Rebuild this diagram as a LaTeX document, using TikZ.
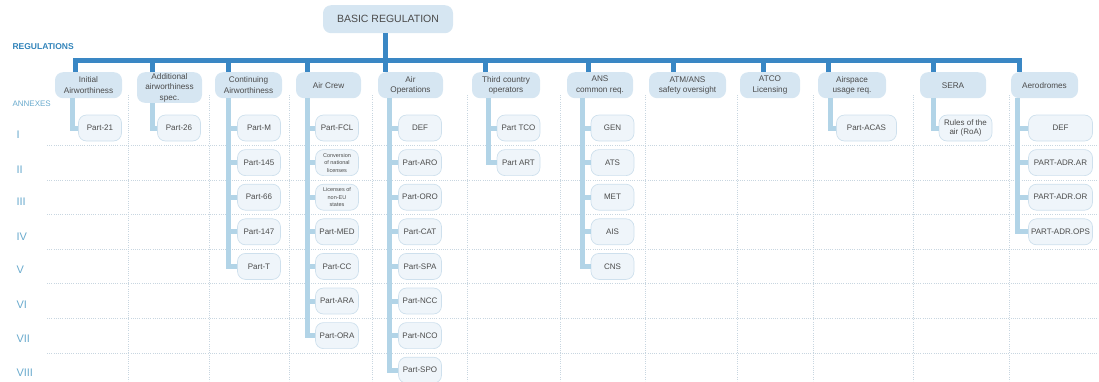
\documentclass[tikz,border=0pt]{standalone}
\usepackage{fontspec}
\setmainfont{Liberation Sans}
\definecolor{barblue}{RGB}{58,135,196}
\definecolor{branchblue}{RGB}{178,212,231}
\definecolor{lvlfill}{RGB}{214,230,242}
\definecolor{partfill}{RGB}{239,245,250}
\definecolor{partline}{RGB}{206,224,237}
\definecolor{boxtext}{RGB}{75,75,75}
\definecolor{labelblue}{RGB}{50,132,186}
\definecolor{numblue}{RGB}{105,170,205}
\definecolor{gridgray}{RGB}{200,214,224}

\begin{document}
\begin{tikzpicture}[x=1pt,y=-1pt,
  lvl/.style={rectangle, rounded corners=8pt, fill=lvlfill, text=boxtext, align=center,
    minimum height=26pt, inner sep=1pt, anchor=north, font=\fontsize{8.2}{10.5}\selectfont},
  part/.style={rectangle, rounded corners=8pt, fill=partfill, draw=partline, line width=0.7pt,
    text=boxtext, align=center, minimum height=26pt, minimum width=43pt, inner sep=1pt,
    font=\fontsize{8}{9.5}\selectfont},
  tiny/.style={font=\fontsize{5.5}{7.5}\selectfont},
  trunk/.style={draw=barblue, line width=5pt},
  branch/.style={draw=branchblue, line width=5pt},
  gridline/.style={draw=gridgray, line width=0.6pt, dash pattern=on 0.8pt off 1.4pt},
  roman/.style={anchor=west, text=numblue, font=\fontsize{11}{11}\selectfont}]
\clip (0,0) rectangle (1099,381);

% grid
\draw[gridline] (128,95) -- (128,381);
\draw[gridline] (209,95) -- (209,381);
\draw[gridline] (289,95) -- (289,381);
\draw[gridline] (372,95) -- (372,381);
\draw[gridline] (467,95) -- (467,381);
\draw[gridline] (560,95) -- (560,381);
\draw[gridline] (645,95) -- (645,381);
\draw[gridline] (737,95) -- (737,381);
\draw[gridline] (813,95) -- (813,381);
\draw[gridline] (913,95) -- (913,381);
\draw[gridline] (1009,95) -- (1009,381);
\draw[gridline] (47,145.3) -- (1099,145.3);
\draw[gridline] (47,180) -- (1099,180);
\draw[gridline] (47,214.5) -- (1099,214.5);
\draw[gridline] (47,249) -- (1099,249);
\draw[gridline] (47,283.7) -- (1099,283.7);
\draw[gridline] (47,318) -- (1099,318);
\draw[gridline] (47,353) -- (1099,353);

% labels
\node[anchor=west, text=labelblue, font=\bfseries\fontsize{8.5}{10}\selectfont] (regs) at (9,47) {REGULATIONS};
\node[anchor=west, text=numblue, font=\fontsize{8}{10}\selectfont] (annex) at (9,104) {ANNEXES};
\node[roman] (r1) at (13,135) {I};
\node[roman] (r2) at (13,170) {II};
\node[roman] (r3) at (13,202) {III};
\node[roman] (r4) at (13,237) {IV};
\node[roman] (r5) at (13,270) {V};
\node[roman] (r6) at (13,305) {VI};
\node[roman] (r7) at (13,339) {VII};
\node[roman] (r8) at (13,373) {VIII};

% regulations
\node[lvl, minimum width=130pt, minimum height=28pt, font=\fontsize{10.5}{12}\selectfont] (basic) at (388,5) {BASIC REGULATION};
\node[lvl, minimum width=67pt] (ini) at (88.5,72) {Initial\\Airworthiness};
\node[lvl, minimum width=65pt] (add) at (169.5,72) {Additional\\airworthiness\\spec.};
\node[lvl, minimum width=67pt] (cam) at (248.5,72) {Continuing\\Airworthiness};
\node[lvl, minimum width=65pt] (crew) at (328.5,72) {Air Crew};
\node[lvl, minimum width=65pt] (ops) at (410.5,72) {Air\\Operations};
\node[lvl, minimum width=68pt] (tco) at (506,72) {Third country\\operators};
\node[lvl, minimum width=66pt] (ans) at (600,72) {ANS\\common req.};
\node[lvl, minimum width=77pt] (atm) at (687.5,72) {ATM/ANS\\safety oversight};
\node[lvl, minimum width=60pt] (atco) at (770,72) {ATCO\\Licensing};
\node[lvl, minimum width=68pt] (asp) at (852,72) {Airspace\\usage req.};
\node[lvl, minimum width=66pt] (sera) at (953,72) {SERA};
\node[lvl, minimum width=67pt] (adr) at (1044.5,72) {Aerodromes};

% annexes
\node[part] (p21) at (100,128) {Part-21};
\node[part] (p26) at (179,128) {Part-26};
\node[part] (pm) at (259,128) {Part-M};
\node[part] (p145) at (259,162.6) {Part-145};
\node[part] (p66) at (259,197.2) {Part-66};
\node[part] (p147) at (259,231.8) {Part-147};
\node[part] (pt) at (259,266.4) {Part-T};
\node[part] (fcl) at (337,128) {Part-FCL};
\node[part, tiny] (conv) at (337,162.6) {Conversion\\of national\\licenses};
\node[part, tiny] (noneu) at (337,197.2) {Licenses of\\non-EU\\states};
\node[part] (med) at (337,231.8) {Part-MED};
\node[part] (cc) at (337,266.4) {Part-CC};
\node[part] (ara) at (337,301) {Part-ARA};
\node[part] (ora) at (337,335.6) {Part-ORA};
\node[part] (def) at (420,128) {DEF};
\node[part] (aro) at (420,162.6) {Part-ARO};
\node[part] (oro) at (420,197.2) {Part-ORO};
\node[part] (cat) at (420,231.8) {Part-CAT};
\node[part] (spa) at (420,266.4) {Part-SPA};
\node[part] (ncc) at (420,301) {Part-NCC};
\node[part] (nco) at (420,335.6) {Part-NCO};
\node[part] (spo) at (420,370.2) {Part-SPO};
\node[part] (ptco) at (518.5,128) {Part TCO};
\node[part] (part) at (518.5,162.6) {Part ART};
\node[part] (gen) at (612.5,128) {GEN};
\node[part] (ats) at (612.5,162.6) {ATS};
\node[part] (met) at (612.5,197.2) {MET};
\node[part] (ais) at (612.5,231.8) {AIS};
\node[part] (cns) at (612.5,266.4) {CNS};
\node[part, minimum width=60pt] (acas) at (866.5,128) {Part-ACAS};
\node[part, minimum width=53pt] (roa) at (965.5,128) {Rules of the\\air (RoA)};
\node[part, minimum width=64pt] (adrdef) at (1060.5,128) {DEF};
\node[part, minimum width=64pt] (adrar) at (1060.5,162.6) {PART-ADR.AR};
\node[part, minimum width=64pt] (adror) at (1060.5,197.2) {PART-ADR.OR};
\node[part, minimum width=64pt] (adrops) at (1060.5,231.8) {PART-ADR.OPS};

% trunk
\coordinate (s-ini) at (75,60);
\coordinate (s-add) at (152,60);
\coordinate (s-cam) at (228,60);
\coordinate (s-crew) at (307,60);
\coordinate (s-ops) at (385,60);
\coordinate (s-tco) at (485,60);
\coordinate (s-ans) at (588,60);
\coordinate (s-atm) at (673,60);
\coordinate (s-atco) at (763,60);
\coordinate (s-asp) at (828,60);
\coordinate (s-sera) at (933,60);
\coordinate (s-adr) at (1019,60);

\draw[trunk] (ini.north -| s-ini) |- (s-adr) -- (adr.north -| s-adr);
\draw[trunk] (basic.south -| s-ops) -- (s-ops);
\draw[trunk] (s-add) -- (add.north -| s-add);
\draw[trunk] (s-cam) -- (cam.north -| s-cam);
\draw[trunk] (s-crew) -- (crew.north -| s-crew);
\draw[trunk] (s-ops) -- (ops.north -| s-ops);
\draw[trunk] (s-tco) -- (tco.north -| s-tco);
\draw[trunk] (s-ans) -- (ans.north -| s-ans);
\draw[trunk] (s-atm) -- (atm.north -| s-atm);
\draw[trunk] (s-atco) -- (atco.north -| s-atco);
\draw[trunk] (s-asp) -- (asp.north -| s-asp);
\draw[trunk] (s-sera) -- (sera.north -| s-sera);

% branches
\coordinate (b-ini) at (72,0);
\coordinate (b-add) at (152,0);
\coordinate (b-cam) at (228,0);
\coordinate (b-crew) at (307,0);
\coordinate (b-ops) at (389,0);
\coordinate (b-tco) at (488,0);
\coordinate (b-ans) at (582,0);
\coordinate (b-asp) at (830,0);
\coordinate (b-sera) at (933,0);
\coordinate (b-adr) at (1017,0);

\draw[branch] (ini.south -| b-ini) |- (p21.west);
\draw[branch] (add.south -| b-add) |- (p26.west);
\draw[branch] (cam.south -| b-cam) |- (pm.west);
\draw[branch] (cam.south -| b-cam) |- (p145.west);
\draw[branch] (cam.south -| b-cam) |- (p66.west);
\draw[branch] (cam.south -| b-cam) |- (p147.west);
\draw[branch] (cam.south -| b-cam) |- (pt.west);
\draw[branch] (crew.south -| b-crew) |- (fcl.west);
\draw[branch] (crew.south -| b-crew) |- (conv.west);
\draw[branch] (crew.south -| b-crew) |- (noneu.west);
\draw[branch] (crew.south -| b-crew) |- (med.west);
\draw[branch] (crew.south -| b-crew) |- (cc.west);
\draw[branch] (crew.south -| b-crew) |- (ara.west);
\draw[branch] (crew.south -| b-crew) |- (ora.west);
\draw[branch] (ops.south -| b-ops) |- (def.west);
\draw[branch] (ops.south -| b-ops) |- (aro.west);
\draw[branch] (ops.south -| b-ops) |- (oro.west);
\draw[branch] (ops.south -| b-ops) |- (cat.west);
\draw[branch] (ops.south -| b-ops) |- (spa.west);
\draw[branch] (ops.south -| b-ops) |- (ncc.west);
\draw[branch] (ops.south -| b-ops) |- (nco.west);
\draw[branch] (ops.south -| b-ops) |- (spo.west);
\draw[branch] (tco.south -| b-tco) |- (ptco.west);
\draw[branch] (tco.south -| b-tco) |- (part.west);
\draw[branch] (ans.south -| b-ans) |- (gen.west);
\draw[branch] (ans.south -| b-ans) |- (ats.west);
\draw[branch] (ans.south -| b-ans) |- (met.west);
\draw[branch] (ans.south -| b-ans) |- (ais.west);
\draw[branch] (ans.south -| b-ans) |- (cns.west);
\draw[branch] (asp.south -| b-asp) |- (acas.west);
\draw[branch] (sera.south -| b-sera) |- (roa.west);
\draw[branch] (adr.south -| b-adr) |- (adrdef.west);
\draw[branch] (adr.south -| b-adr) |- (adrar.west);
\draw[branch] (adr.south -| b-adr) |- (adror.west);
\draw[branch] (adr.south -| b-adr) |- (adrops.west);
\end{tikzpicture}
\end{document}
